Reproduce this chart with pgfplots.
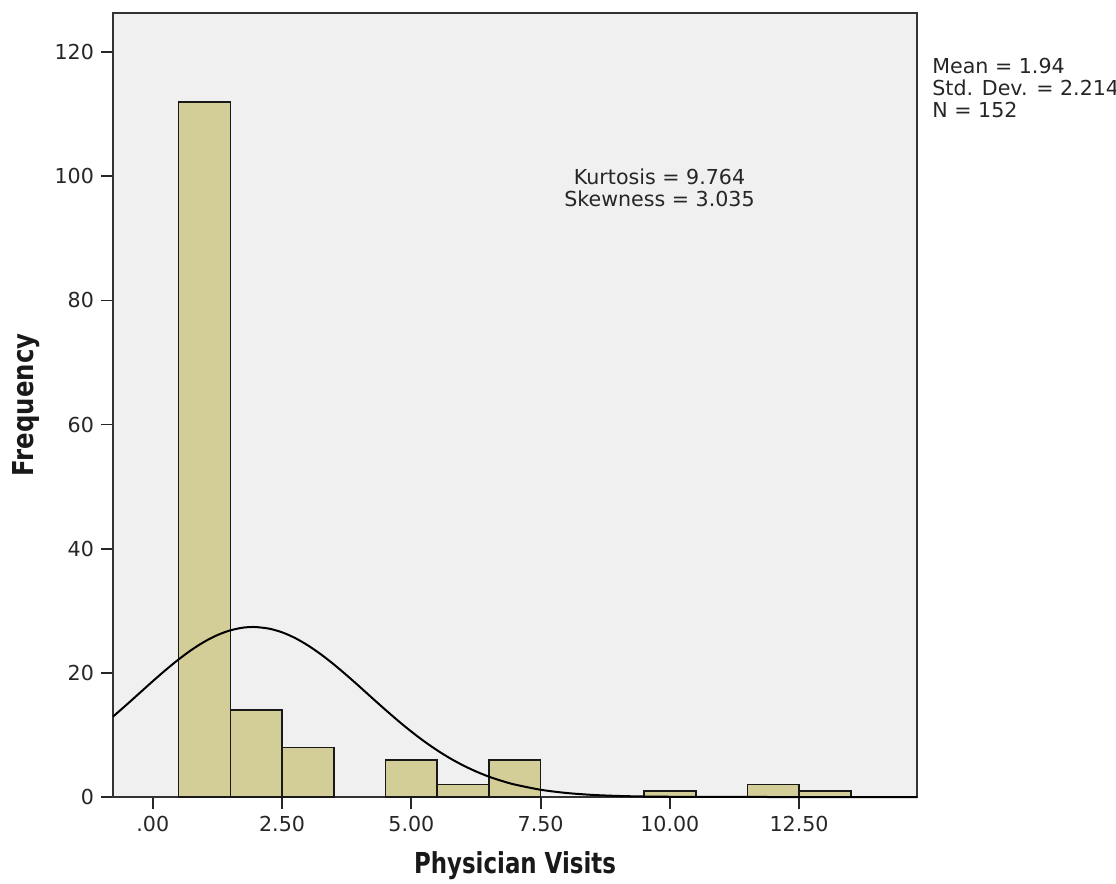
\documentclass[border=0pt]{standalone}
\usepackage{fontspec}
\setmainfont{DejaVu Sans}
\usepackage{pgfplots}
\pgfplotsset{compat=1.18}
\definecolor{bgc}{RGB}{240,240,240}
\definecolor{barc}{RGB}{211,205,151}
\begin{document}
\begin{tikzpicture}
\begin{axis}[
 scale only axis, width=402pt, height=392pt,
 xmin=-0.77, xmax=14.78, ymin=0, ymax=126.3,
 clip=false,
 axis background/.style={fill=bgc},
 axis line style={line width=1pt, black!80},
 tick align=outside, tick pos=left, major tick length=6pt,
 tick style={line width=0.9pt, black!85},
 xtick={0,2.5,5,7.5,10,12.5},
 xticklabels={.00,2.50,5.00,7.50,10.00,12.50},
 ytick={0,20,40,60,80,100,120},
 /pgf/number format/assume math mode=true,
 tick label style={font=\fontsize{10.3}{12}\selectfont, text=black!85},
 xlabel={\scalebox{1}[1.26]{Physician Visits}}, ylabel={\scalebox{1}[1.18]{Frequency}},
 every axis x label/.style={at={(axis description cs:0.5,-0.0855)}, anchor=center, yshift=-1pt,
   font=\fontsize{11.45}{13}\selectfont\bfseries, text=black!90},
 every axis y label/.style={at={(axis description cs:-0.1082,0.5)}, rotate=90, anchor=center,
   font=\fontsize{12.2}{14}\selectfont\bfseries, text=black!90},
]
\coordinate (SW) at (rel axis cs:0,0);
\coordinate (NE) at (rel axis cs:1,1);
\addplot[ybar, bar width=1, bar shift=0pt, fill=barc, draw=black!90, line width=0.8pt]
 coordinates {(1,112) (2,14) (3,8) (5,6) (6,2) (7,6) (10,1) (12,2) (13,1)};
\addplot[black, line width=1pt, smooth, mark=none] coordinates {
 (-0.77,12.95) (-0.5,14.92) (-0.25,16.79) (0,18.66) (0.25,20.47) (0.5,22.17)
 (0.75,23.71) (1.0,25.03) (1.25,26.09) (1.5,26.85) (1.75,27.29) (1.94,27.39)
 (2.0,27.38) (2.25,27.12) (2.5,26.53) (2.75,25.62) (3.0,24.42) (3.25,22.99)
 (3.5,21.37) (3.75,19.61) (4.0,17.77) (4.25,15.89) (4.5,14.04) (4.75,12.24)
 (5.0,10.54) (5.25,8.96) (5.5,7.52) (5.75,6.23) (6.0,5.10) (6.25,4.12)
 (6.5,3.28) (6.75,2.59) (7.0,2.01) (7.5,1.17) (8.0,0.65) (8.5,0.34)
 (9.0,0.17) (9.5,0.08) (10.0,0.04) (11.0,0.006) (12.0,0.001) (14.78,0)};
\node[align=center, font=\fontsize{10.3}{11}\selectfont, text=black!85] at (axis cs:9.8,98.2)
 {Kurtosis = 9.764\\Skewness = 3.035};
\node[align=left, anchor=west, inner sep=0pt, font=\fontsize{10.3}{11}\selectfont, text=black!85] at (axis cs:15.07,114.2)
 {Mean = 1.94\\Std. Dev. = 2.214\\N = 152};
\end{axis}
\pgfresetboundingbox
\path[use as bounding box] ([shift={(-56.5pt,-43pt)}]SW) rectangle ([shift={(99.5pt,6.5pt)}]NE);
\end{tikzpicture}
\end{document}
